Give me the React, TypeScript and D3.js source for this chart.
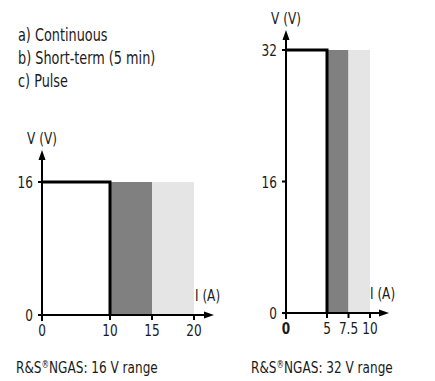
import * as d3 from 'd3';
import { ReactNode } from 'react';

const legendLines = ['a) Continuous', 'b) Short-term (5 min)', 'c) Pulse'];

// 16 V range
const leftXTicks = [0, 10, 15, 20];
const leftYTicks = [0, 16];
const leftVmax = 16;
const leftContinuous = 10;
const leftShortTerm = 15;
const leftPulse = 20;

// 32 V range
const rightXTicks = [0, 5, 7.5, 10];
const rightYTicks = [0, 16, 32];
const rightVmax = 32;
const rightContinuous = 5;
const rightShortTerm = 7.5;
const rightPulse = 10;

const FONT = '"Liberation Sans Narrow", "DejaVu Sans Condensed", "Roboto", sans-serif';
const DARK = '#808080';
const LIGHT = '#e5e5e5';
const INK = '#1a1a1a';
const SQUEEZE = 0.84; // narrow the fallback font a bit

// condensed text helper
function T(props: { x: number; y: number; anchor?: string; size?: number; bold?: boolean; children: ReactNode }) {
  return (
    <text
      transform={`translate(${props.x},${props.y}) scale(${SQUEEZE},1)`}
      textAnchor={props.anchor ?? 'start'}
      fontSize={props.size ?? 16}
      fontWeight={props.bold ? 'bold' : 'normal'}
    >
      {props.children}
    </text>
  );
}

interface PanelProps {
  xDomain: number[];
  xRange: number[];
  yDomain: number[];
  yRange: number[];
  xTicks: number[];
  yTicks: number[];
  vmax: number;
  cont: number;
  short: number;
  pulse: number;
  axisEnd: number;
  axisTop: number;
  title: string;
  titleX: number;
  boldZero?: boolean;
}

function Panel(p: PanelProps) {
  const x = d3.scaleLinear().domain(p.xDomain).range(p.xRange);
  const y = d3.scaleLinear().domain(p.yDomain).range(p.yRange);
  const x0 = x(0);
  const y0 = y(0);
  const line = d3.line<[number, number]>()
    .x((d) => x(d[0]))
    .y((d) => y(d[1]));
  const cont = line([[0, p.vmax], [p.cont, p.vmax], [p.cont, 0]]) ?? '';
  return (
    <g>
      <rect x={x(p.cont)} y={y(p.vmax)} width={x(p.short) - x(p.cont)} height={y0 - y(p.vmax)} fill={DARK} />
      <rect x={x(p.short)} y={y(p.vmax)} width={x(p.pulse) - x(p.short)} height={y0 - y(p.vmax)} fill={LIGHT} />
      {/* axes */}
      <line x1={x0 - 4} x2={p.axisEnd - 6} y1={y0} y2={y0} stroke="#000" strokeWidth={2} />
      <path d={`M${p.axisEnd},${y0} L${p.axisEnd - 10},${y0 - 3.5} L${p.axisEnd - 10},${y0 + 3.5}Z`} fill="#000" />
      <line x1={x0} x2={x0} y1={y0 + 6} y2={p.axisTop + 6} stroke="#000" strokeWidth={2} />
      <path d={`M${x0},${p.axisTop} L${x0 - 3.5},${p.axisTop + 10} L${x0 + 3.5},${p.axisTop + 10}Z`} fill="#000" />
      {p.yTicks.filter((t) => t !== 0).map((t) => (
        <line key={t} x1={x0 - 4} x2={x0} y1={y(t)} y2={y(t)} stroke="#000" strokeWidth={2} />
      ))}
      {p.xTicks.filter((t) => t !== 0).map((t) => (
        <line key={t} x1={x(t)} x2={x(t)} y1={y0} y2={y0 + 5} stroke="#000" strokeWidth={2} />
      ))}
      <path d={cont} fill="none" stroke="#000" strokeWidth={3} />
      {/* labels */}
      <g fontFamily={FONT} fill={INK}>
        {p.yTicks.map((t) => (
          <T key={t} x={x0 - 9} y={y(t) + 6} anchor="end">{t}</T>
        ))}
        {p.xTicks.map((t) => (
          <T key={t} x={x(t)} y={y0 + 21} anchor="middle" bold={t === 0 && p.boldZero}>{t}</T>
        ))}
        <T x={x0} y={p.axisTop - 6} anchor="middle">V (V)</T>
        <T x={p.axisEnd - 19} y={y0 - 14}>I (A)</T>
        <T x={p.titleX} y={373} size={16}>
          R&amp;S<tspan fontSize={10} dy={-5}>®</tspan><tspan dy={5}>NGAS: {p.title}</tspan>
        </T>
      </g>
    </g>
  );
}

export default function App() {
  return (
    <svg width={435} height={381} style={{ position: 'absolute', left: 0, top: 0, background: '#fff' }}>
      <g fontFamily={FONT} fill={INK}>
        {legendLines.map((s, i) => (
          <T key={s} x={18} y={41 + i * 23} size={17}>{s}</T>
        ))}
      </g>
      <Panel
        xDomain={[0, 10, 20]}
        xRange={[42, 110, 194]}
        yDomain={[0, leftVmax]}
        yRange={[315, 182]}
        xTicks={leftXTicks}
        yTicks={leftYTicks}
        vmax={leftVmax}
        cont={leftContinuous}
        short={leftShortTerm}
        pulse={leftPulse}
        axisEnd={214}
        axisTop={150}
        title="16 V range"
        titleX={16}
      />
      <Panel
        xDomain={[0, 5, 10]}
        xRange={[286, 327, 370]}
        yDomain={[0, rightVmax]}
        yRange={[313, 50]}
        xTicks={rightXTicks}
        yTicks={rightYTicks}
        vmax={rightVmax}
        cont={rightContinuous}
        short={rightShortTerm}
        pulse={rightPulse}
        axisEnd={389}
        axisTop={30}
        title="32 V range"
        titleX={251}
        boldZero
      />
    </svg>
  );
}
